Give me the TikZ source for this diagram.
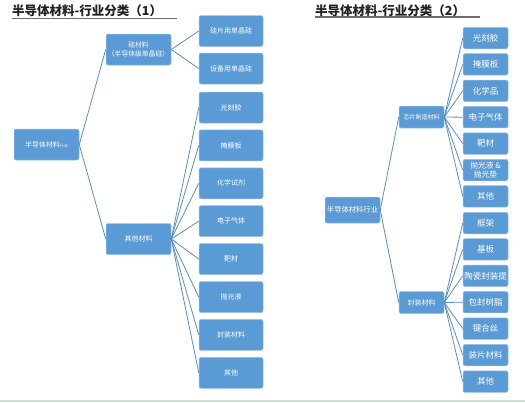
\documentclass[tikz,border=0pt]{standalone}
\usepackage{fontspec}
\setmainfont{Noto Sans CJK SC}
\definecolor{boxblue}{HTML}{5B9BD5}
\definecolor{boxedge}{HTML}{9DC3E6}
\definecolor{connblue}{HTML}{5A8DC6}
\definecolor{titlegray}{HTML}{222222}
\definecolor{ruleline}{HTML}{6E6E6E}
\definecolor{greenline}{HTML}{CFE3D2}
\tikzset{
  box/.style={rectangle, rounded corners=2pt, fill=boxblue, draw=boxedge, line width=0.5pt,
    text=white, inner sep=0pt, align=center},
  lbox/.style={box, minimum width=64pt, minimum height=31pt, font=\fontsize{7}{8.5}\selectfont},
  rbox/.style={box, minimum width=45pt, minimum height=21.5pt, font=\fontsize{8.5}{9.5}\selectfont},
  conn/.style={draw=connblue, line width=0.8pt},
  titletext/.style={text=titlegray, inner sep=0pt, anchor=west, font=\bfseries\fontsize{12.5}{14}\selectfont},
}
\begin{document}
\begin{tikzpicture}[x=1pt,y=-1pt]
\useasboundingbox (0,0) rectangle (525,402);
\fill[white] (0,0) rectangle (525,402);
% bottom line
\draw[greenline, line width=1.5pt] (0,401) -- (525,401);
% titles
\node[titletext] (t1) at (12,11) {半导体材料-行业分类（1）};
\draw[ruleline, line width=1.2pt] (12,18.2) -- (177,18.2);
\node[titletext] (t2) at (315,10.5) {半导体材料-行业分类（2）};
\draw[ruleline, line width=1.2pt] (315,17) -- (480,17);

% ---------- left tree ----------
\node[lbox, minimum width=65pt] (L0) at (46.5,144.5) {半导体材料{\fontsize{4}{5}\selectfont 行业}};
\node[lbox, minimum width=65pt, font=\fontsize{6.8}{9}\selectfont] (Lsi) at (138.5,49.5) {硅材料\\（半导体级单晶硅）};
\node[lbox, minimum width=65pt] (Loth) at (138.5,239) {其他材料};

\node[lbox] (a1) at (231,31) {硅片用单晶硅};
\node[lbox] (a2) at (231,68.5) {设备用单晶硅};

\node[lbox] (b1) at (231,107.5) {光刻胶};
\node[lbox] (b2) at (231,145.4) {掩膜板};
\node[lbox] (b3) at (231,183.3) {化学试剂};
\node[lbox] (b4) at (231,221.2) {电子气体};
\node[lbox] (b5) at (231,259.1) {靶材};
\node[lbox] (b6) at (231,297) {抛光液};
\node[lbox] (b7) at (231,334.9) {封装材料};
\node[lbox] (b8) at (231,372.8) {其他};

\draw[conn] (L0.east) -- (Lsi.west);
\draw[conn] (L0.east) -- (Loth.west);
\foreach \n in {a1,a2} \draw[conn] (Lsi.east) -- (\n.west);
\foreach \n in {b1,b2,b3,b4,b5,b6,b7,b8} \draw[conn] (Loth.east) -- (\n.west);

% ---------- right tree ----------
\node[rbox, minimum width=55pt, minimum height=26pt, font=\fontsize{7.3}{8}\selectfont] (R0) at (352.5,210) {半导体材料行业};
\node[rbox, minimum height=22pt, font=\fontsize{6}{7}\selectfont] (Rc) at (421.5,117) {芯片制造材料};
\node[rbox, minimum height=22pt, font=\fontsize{7}{8}\selectfont] (Rp) at (421.5,302.5) {封装材料};

\node[rbox] (c1) at (485.5,38) {光刻胶};
\node[rbox] (c2) at (485.5,64.4) {掩膜板};
\node[rbox] (c3) at (485.5,90.8) {化学品};
\node[rbox] (c4) at (485.5,117.2) {电子气体};
\node[rbox] (c5) at (485.5,143.6) {靶材};
\node[rbox, font=\fontsize{7.8}{9}\selectfont] (c6) at (485.5,170) {抛光液 \&\\抛光垫};
\node[rbox] (c7) at (485.5,196.4) {其他};

\node[rbox] (d1) at (485.5,223) {框架};
\node[rbox] (d2) at (485.5,249.4) {基板};
\node[rbox] (d3) at (485.5,275.8) {陶瓷封装提};
\node[rbox] (d4) at (485.5,302.2) {包封树脂};
\node[rbox] (d5) at (485.5,328.6) {键合丝};
\node[rbox] (d6) at (485.5,355) {装片材料};
\node[rbox] (d7) at (485.5,381.6) {其他};

\draw[conn] (R0.east) -- (Rc.west);
\draw[conn] (R0.east) -- (Rp.west);
\foreach \n in {c1,c2,c3,c4,c5,c6,c7} \draw[conn] (Rc.east) -- (\n.west);
\foreach \n in {d1,d2,d3,d4,d5,d6,d7} \draw[conn] (Rp.east) -- (\n.west);
\end{tikzpicture}
\end{document}
